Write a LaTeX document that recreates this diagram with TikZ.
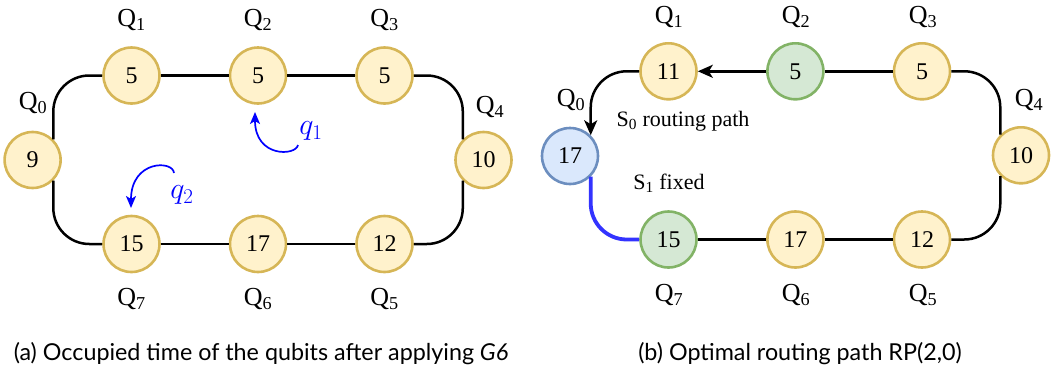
\RequirePackage{fix-cm}
\documentclass[tikz,border=0pt]{standalone}
\usepackage{fontspec}
\setmainfont{Liberation Serif}
\newfontfamily\capfont{Lato}
\usetikzlibrary{arrows.meta}
\definecolor{ygold}{HTML}{D6B656}
\definecolor{yfill}{HTML}{FFF2CC}
\definecolor{ggreen}{HTML}{82B366}
\definecolor{gfill}{HTML}{D5E8D4}
\definecolor{bblue}{HTML}{6C8EBF}
\definecolor{bfill}{HTML}{DAE8FC}
\definecolor{pathblue}{HTML}{3333FF}
\newcommand\nfnt{\fontsize{24}{26}\selectfont}
\newcommand\lfnt{\fontsize{26}{29}\selectfont}
\newcommand\cfnt{\capfont\fontsize{23.3}{26}\selectfont}
\tikzset{
  qnode/.style={circle, draw=ygold, fill=yfill, line width=2.6pt, minimum size=56pt, inner sep=0pt, font=\nfnt},
  gnode/.style={qnode, draw=ggreen, fill=gfill},
  bnode/.style={qnode, draw=bblue, fill=bfill},
  qlabel/.style={font=\lfnt, inner sep=0pt},
  txt/.style={font=\fontsize{22}{24}\selectfont, inner sep=0pt},
  captxt/.style={font=\cfnt, inner sep=0pt},
  qtxt/.style={font=\fontsize{30}{32}\selectfont, text=blue, inner sep=0pt},
  edge/.style={line width=2.5pt, black},
  curvededge/.style={edge, rounded corners=36pt},
  blueedge/.style={line width=3.8pt, pathblue, rounded corners=36pt},
  qarrow/.style={line width=1.7pt, blue, -{Stealth[length=12pt,width=10pt,inset=3pt]}},
  blackarrow/.style={-{Stealth[length=15pt,width=13pt,inset=4pt]}}
}
\begin{document}
\begin{tikzpicture}[x=1pt,y=-1pt]
\useasboundingbox (0,0) rectangle (1057,375);
% ---------- panel (a) ----------
\node[qnode] (a0) at (32.6,160) {9};
\node[qnode] (a1) at (131.5,75.5) {5};
\node[qnode] (a2) at (258,75.5) {5};
\node[qnode] (a3) at (384.5,75.5) {5};
\node[qnode] (a4) at (483.5,160) {10};
\node[qnode] (a5) at (384.5,244) {12};
\node[qnode] (a6) at (258,244) {17};
\node[qnode] (a7) at (131.5,244) {15};
\draw[edge] (a1) -- (a2) -- (a3);
\draw[edge] (a7) -- (a6) -- (a5);
\draw[curvededge] (a0.45) |- (a1.west);
\draw[curvededge] (a0.-45) |- (a7.west);
\draw[curvededge] (a3.east) -| (a4.135);
\draw[curvededge] (a5.east) -| (a4.-135);
\node[qlabel] (la0) at (33,103) {Q\textsubscript{0}};
\node[qlabel] (la1) at (131.5,20) {Q\textsubscript{1}};
\node[qlabel] (la2) at (258,20) {Q\textsubscript{2}};
\node[qlabel] (la3) at (384.5,20) {Q\textsubscript{3}};
\node[qlabel] (la4) at (490,107) {Q\textsubscript{4}};
\node[qlabel] (la5) at (384.5,299) {Q\textsubscript{5}};
\node[qlabel] (la6) at (258,299) {Q\textsubscript{6}};
\node[qlabel] (la7) at (131.5,299) {Q\textsubscript{7}};
\node[qtxt] (q1) at (311,131) {$q_1$};
\node[qtxt] (q2) at (182,195) {$q_2$};
\coordinate (q1s) at (298,145);
\coordinate (q1e) at (255,112);
\coordinate (q2s) at (174,173);
\coordinate (q2e) at (131,208);
\draw[qarrow] (q1s) .. controls (296,156) and (255,158) .. (q1e);
\draw[qarrow] (q2s) .. controls (173,160) and (131,160) .. (q2e);
\node[captxt] (ca) at (261,354) {(a) Occupied time of the qubits after applying \textit{G6}};
% ---------- panel (b) ----------
\node[bnode] (b0) at (570,156) {17};
\node[qnode] (b1) at (668.5,71.3) {11};
\node[gnode] (b2) at (795.4,71.3) {5};
\node[qnode] (b3) at (922,71.3) {5};
\node[qnode] (b4) at (1021,155.3) {10};
\node[qnode] (b5) at (922,239.5) {12};
\node[qnode] (b6) at (795.4,239.5) {17};
\node[gnode] (b7) at (668.5,239.5) {15};
\draw[edge, blackarrow] (b2) -- (b1);
\draw[edge] (b2) -- (b3);
\draw[edge] (b7) -- (b6) -- (b5);
\draw[curvededge, blackarrow] (b1.west) -| (b0.45);
\draw[curvededge] (b3.east) -| (b4.135);
\draw[curvededge] (b5.east) -| (b4.-135);
\draw[blueedge] (b0.-45) |- (b7.west);
\node[qlabel] (lb0) at (571,100) {Q\textsubscript{0}};
\node[qlabel] (lb1) at (669,17) {Q\textsubscript{1}};
\node[qlabel] (lb2) at (796,17) {Q\textsubscript{2}};
\node[qlabel] (lb3) at (923,17) {Q\textsubscript{3}};
\node[qlabel] (lb4) at (1029,100) {Q\textsubscript{4}};
\node[qlabel] (lb5) at (923,295) {Q\textsubscript{5}};
\node[qlabel] (lb6) at (796,295) {Q\textsubscript{6}};
\node[qlabel] (lb7) at (669,295) {Q\textsubscript{7}};
\node[txt] (s0) at (683,121) {S\textsubscript{0} routing path};
\node[txt] (s1) at (669,183) {S\textsubscript{1} fixed};
\node[captxt] (cb) at (800,354) {(b) Optimal routing path RP(2,0)};
\end{tikzpicture}
\end{document}
